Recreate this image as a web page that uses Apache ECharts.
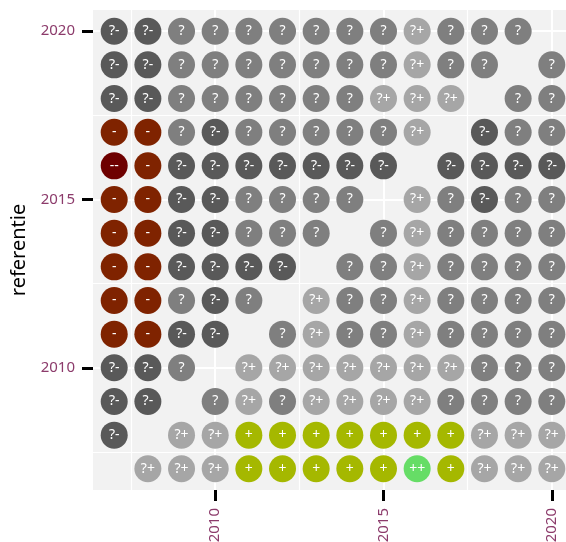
<!DOCTYPE html>
<html>
<head>
<meta charset="utf-8">
<script src="https://cdn.jsdelivr.net/npm/echarts@6/dist/echarts.min.js"></script>
<style>
html,body{margin:0;padding:0;background:#fff;}
#chart{width:566px;height:542px;}
</style>
</head>
<body>
<div id="chart"></div>
<script>
// columns (x) years
const years = [2007,2008,2009,2010,2011,2012,2013,2014,2015,2016,2017,2018,2019,2020];
// rows: reference year (y) -> label per column year (null = no mark)
const ref2020 = ['?-','?-','?','?','?','?','?','?','?','?+','?','?','?',null];
const ref2019 = ['?-','?-','?','?','?','?','?','?','?','?+','?','?',null,'?'];
const ref2018 = ['?-','?-','?','?','?','?','?','?','?+','?+','?+',null,'?','?'];
const ref2017 = ['-','-','?','?-','?','?','?','?','?','?+',null,'?-','?','?'];
const ref2016 = ['--','-','?-','?-','?-','?-','?-','?-','?-',null,'?-','?-','?-','?-'];
const ref2015 = ['-','-','?-','?-','?','?','?','?',null,'?+','?','?-','?','?'];
const ref2014 = ['-','-','?-','?-','?','?','?',null,'?','?+','?','?','?','?'];
const ref2013 = ['-','-','?-','?-','?-','?-',null,'?','?','?+','?','?','?','?'];
const ref2012 = ['-','-','?','?-','?',null,'?+','?','?','?+','?','?','?','?'];
const ref2011 = ['-','-','?-','?-',null,'?','?+','?','?','?+','?','?','?','?'];
const ref2010 = ['?-','?-','?',null,'?+','?+','?+','?+','?+','?+','?+','?','?','?'];
const ref2009 = ['?-','?-',null,'?','?+','?','?+','?+','?+','?+','?','?','?','?'];
const ref2008 = ['?-',null,'?+','?+','+','+','+','+','+','+','+','?+','?+','?+'];
const ref2007 = [null,'?+','?+','?+','+','+','+','+','+','++','+','?+','?+','?+'];
const refYears = [2020,2019,2018,2017,2016,2015,2014,2013,2012,2011,2010,2009,2008,2007];
const refRows = [ref2020,ref2019,ref2018,ref2017,ref2016,ref2015,ref2014,ref2013,ref2012,ref2011,ref2010,ref2009,ref2008,ref2007];
const categories = ['--','-','?-','?','?+','+','++'];
const catColors = ['#6e0000','#7f2300','#595959','#7f7f7f','#a6a6a6','#a5b800','#66dd66'];
const majorTicks = [2010,2015,2020];
const minorTicks = [2007.5,2012.5,2017.5];

const seriesData = {};
categories.forEach(c => seriesData[c] = []);
refRows.forEach((row, ri) => {
  row.forEach((lab, ci) => {
    if (lab !== null) seriesData[lab].push([years[ci], refYears[ri], lab]);
  });
});

const FONT = '"Noto Sans", "Open Sans", sans-serif';
const labelColor = '#8c3b6b';
const lo = 2006.37, hi = 2020.63;

const mkAxisMajor = (pos, isX) => ({
  type: 'value', min: lo, max: hi, position: pos,
  axisLine: {show: false},
  axisTick: {show: true, length: 11, customValues: majorTicks, lineStyle: {color: '#000', width: 3}},
  axisLabel: {customValues: majorTicks, color: labelColor, fontSize: 15, fontFamily: FONT,
              margin: 18, rotate: isX ? 90 : 0, formatter: v => String(Math.round(v))},
  splitLine: {show: true, lineStyle: {color: '#ffffff', width: 2}}
});
const mkAxisMinor = (pos) => ({
  type: 'value', min: lo, max: hi, position: pos,
  axisLine: {show: false},
  axisTick: {show: false, customValues: minorTicks},
  axisLabel: {show: false, customValues: minorTicks},
  splitLine: {show: true, lineStyle: {color: '#ffffff', width: 1.2}}
});

const yMajor = mkAxisMajor('left', false);
yMajor.name = 'referentie';
yMajor.nameLocation = 'middle';
yMajor.nameRotate = 90;
yMajor.nameGap = 59;
yMajor.nameTextStyle = {color: '#000', fontSize: 20, fontFamily: FONT};

const chart = echarts.init(document.getElementById('chart'), null, {renderer: 'canvas'});
chart.setOption({
  animation: false,
  backgroundColor: '#ffffff',
  grid: {left: 93, top: 10, width: 480, height: 480, show: true, backgroundColor: '#f2f2f2',
         borderWidth: 0, containLabel: false, outerBoundsMode: 'none'},
  xAxis: [mkAxisMajor('bottom', true), mkAxisMinor('top')],
  yAxis: [yMajor, mkAxisMinor('right')],
  series: categories.map((c, i) => ({
    type: 'scatter',
    name: c,
    xAxisIndex: 0, yAxisIndex: 0,
    symbol: 'circle',
    symbolSize: 27,
    itemStyle: {color: catColors[i], opacity: 1},
    label: {show: true, position: 'inside', formatter: p => p.data[2],
            color: '#ffffff', fontSize: 14, fontFamily: FONT},
    emphasis: {disabled: true},
    data: seriesData[c]
  }))
});
</script>
</body>
</html>
